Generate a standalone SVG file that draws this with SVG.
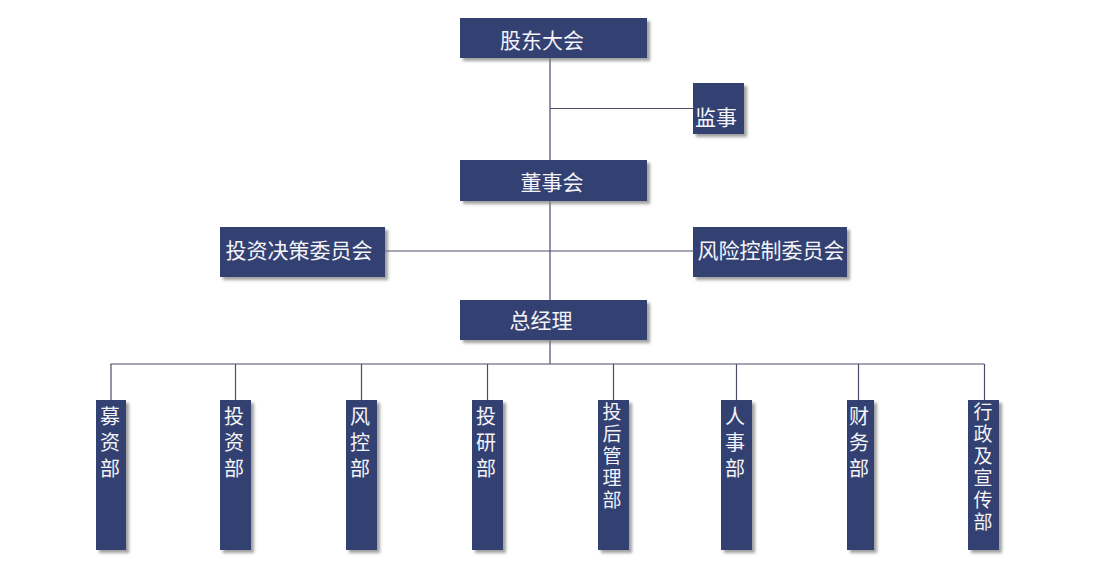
<svg xmlns="http://www.w3.org/2000/svg" width="1093" height="569" viewBox="0 0 1093 569">
<style>
.box{fill:#314172;filter:url(#sh)}
.t{font-family:"Liberation Sans","Noto Sans CJK SC",sans-serif;font-size:20px;fill:#f4f4f8;text-anchor:middle;dominant-baseline:central}
.h{font-size:21px}
.s{font-size:19px}
.ln{stroke:#4e4c68;stroke-width:1.2;fill:none}
</style>
<defs>
<filter id="sh" x="-20%" y="-20%" width="150%" height="150%">
<feDropShadow dx="3" dy="3" stdDeviation="1.5" flood-color="#808080" flood-opacity="0.75"/>
</filter>
</defs>
<rect width="1093" height="569" fill="#ffffff"/>
<g id="connectors">
<line class="ln" x1="550" y1="58" x2="550" y2="364"/>
<line class="ln" x1="550" y1="108.5" x2="693" y2="108.5"/>
<line class="ln" x1="385" y1="251" x2="693" y2="251"/>
<line class="ln" x1="110.5" y1="364" x2="984.5" y2="364"/>
<line class="ln" x1="111" y1="364" x2="111" y2="400"/>
<line class="ln" x1="235.5" y1="364" x2="235.5" y2="400"/>
<line class="ln" x1="361.5" y1="364" x2="361.5" y2="400"/>
<line class="ln" x1="487.5" y1="364" x2="487.5" y2="400"/>
<line class="ln" x1="613.5" y1="364" x2="613.5" y2="400"/>
<line class="ln" x1="736.5" y1="364" x2="736.5" y2="400"/>
<line class="ln" x1="858.5" y1="364" x2="858.5" y2="400"/>
<line class="ln" x1="984.5" y1="364" x2="984.5" y2="400"/>
</g>
<g id="n-gudong"><rect class="box" x="460" y="18" width="187" height="40"/><text class="t h" x="542" y="40">股东大会</text></g>
<g id="n-jianshi"><rect class="box" x="693" y="83" width="51" height="51"/><text class="t h" x="716" y="117">监事</text></g>
<g id="n-dongshi"><rect class="box" x="460" y="160" width="187" height="41"/><text class="t h" x="552" y="182">董事会</text></g>
<g id="n-touzi-wyh"><rect class="box" x="220" y="227" width="165" height="50"/><text class="t h" x="299" y="250">投资决策委员会</text></g>
<g id="n-fengxian-wyh"><rect class="box" x="693" y="227" width="154" height="50"/><text class="t h" x="771" y="250">风险控制委员会</text></g>
<g id="n-zongjingli"><rect class="box" x="460" y="300" width="187" height="40"/><text class="t h" x="541" y="320">总经理</text></g>
<g id="n-muzi"><rect class="box" x="96" y="400" width="30" height="150"/><text class="t"><tspan x="110" y="417">募</tspan><tspan x="110" y="443">资</tspan><tspan x="110" y="469">部</tspan></text></g>
<g id="n-touzi"><rect class="box" x="220" y="400" width="31" height="150"/><text class="t"><tspan x="234" y="417">投</tspan><tspan x="234" y="443">资</tspan><tspan x="234" y="469">部</tspan></text></g>
<g id="n-fengkong"><rect class="box" x="346" y="400" width="31" height="150"/><text class="t"><tspan x="360" y="417">风</tspan><tspan x="360" y="443">控</tspan><tspan x="360" y="469">部</tspan></text></g>
<g id="n-touyan"><rect class="box" x="472" y="400" width="31" height="150"/><text class="t"><tspan x="486" y="417">投</tspan><tspan x="486" y="443">研</tspan><tspan x="486" y="469">部</tspan></text></g>
<g id="n-touhou"><rect class="box" x="598" y="400" width="31" height="150"/><text class="t s"><tspan x="612" y="412">投</tspan><tspan x="612" y="434">后</tspan><tspan x="612" y="456">管</tspan><tspan x="612" y="478">理</tspan><tspan x="612" y="500">部</tspan></text></g>
<g id="n-renshi"><rect class="box" x="721" y="400" width="31" height="150"/><text class="t"><tspan x="735" y="417">人</tspan><tspan x="735" y="443">事</tspan><tspan x="735" y="469">部</tspan></text></g>
<g id="n-caiwu"><rect class="box" x="847" y="400" width="27" height="150"/><text class="t"><tspan x="859" y="417">财</tspan><tspan x="859" y="443">务</tspan><tspan x="859" y="469">部</tspan></text></g>
<g id="n-xingzheng"><rect class="box" x="968" y="400" width="31" height="150"/><text class="t s"><tspan x="983" y="412">行</tspan><tspan x="983" y="434">政</tspan><tspan x="983" y="456">及</tspan><tspan x="983" y="478">宣</tspan><tspan x="983" y="500">传</tspan><tspan x="983" y="522">部</tspan></text></g>
</svg>
